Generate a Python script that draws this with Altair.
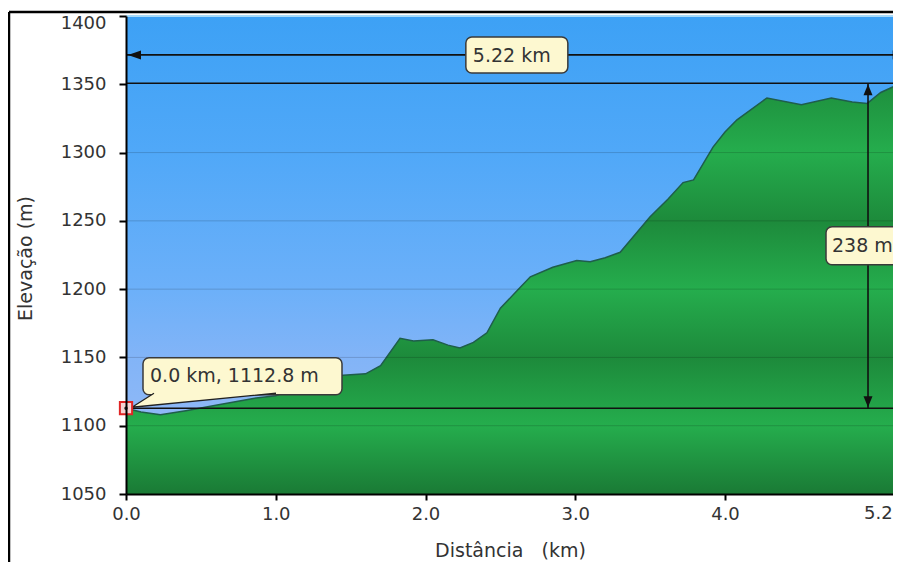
import altair as alt
import pandas as pd

# ---------------- data ----------------
km = [0.00, 0.10, 0.23, 0.40, 0.60, 0.85, 1.00, 1.15, 1.30, 1.45, 1.60, 1.70,
      1.83, 1.92, 2.05, 2.15, 2.23, 2.32, 2.41, 2.50, 2.63, 2.70, 2.85, 3.01,
      3.10, 3.20, 3.30, 3.40, 3.50, 3.62, 3.72, 3.79, 3.92, 4.00, 4.08, 4.28,
      4.51, 4.71, 4.85, 4.95, 5.04, 5.12, 5.18, 5.22]
elev = [1112.8, 1110, 1108, 1111, 1115, 1120, 1122, 1128, 1136, 1137, 1138, 1144,
        1164, 1162, 1163, 1159, 1157, 1161, 1168, 1186, 1201, 1209, 1216, 1221,
        1220, 1223, 1227, 1240, 1253, 1266, 1278, 1280, 1304, 1315, 1324, 1340,
        1335, 1340, 1337, 1336, 1344, 1348, 1350, 1350.8]

x_tick_values = [0, 1, 2, 3, 4]
y_tick_values = [1050, 1100, 1150, 1200, 1250, 1300, 1350, 1400]
grid_values = [1100, 1150, 1200, 1250, 1300]

start_km = 0.0
start_elev = 1112.8
total_km = 5.22
max_elev = 1350.8
climb_m = 238
span_arrow_elev = 1371.5
climb_arrow_km = 4.955

PLOT_W = 767
PX_PER_KM = 149.75
X_DOMAIN = [0, PLOT_W / PX_PER_KM]
Y_DOMAIN = [1050, 1400]
FONT = "DejaVu Sans"
INK = "#111111"
CREAM = "#FDF8D0"
TXT = "#333333"

xs = alt.Scale(domain=X_DOMAIN, nice=False, zero=False)
ys = alt.Scale(domain=Y_DOMAIN, nice=False, zero=False)


def xd(v):
    return alt.X(datum=v, type="quantitative", scale=xs)


def yd(v):
    return alt.Y(datum=v, type="quantitative", scale=ys)


one = pd.DataFrame({"k": [0]})
profile = pd.DataFrame({"km": km, "elev": elev})

# ---------------- gradients ----------------
blue_levels = [1400, 1300, 1200, 1150, 1100, 1050]
blue_colors = ["#3DA1F5", "#50A8F8", "#6CB0F9", "#82B4F7", "#90B9F7", "#98BEF8"]
blue_grad = alt.Gradient(
    gradient="linear", x1=0, x2=0, y1=0, y2=1,
    stops=[alt.GradientStop(offset=(Y_DOMAIN[1] - l) / (Y_DOMAIN[1] - Y_DOMAIN[0]), color=c)
           for l, c in zip(blue_levels, blue_colors)])

top_e = max(elev)
bot_e = Y_DOMAIN[0]
green_levels = [1350, 1300, 1250, 1200, 1150, 1100, 1050]
green_colors = ["#1E8E3D", "#25AD4D", "#1D8A3B", "#25AD4D", "#1D8A3B", "#25AD4D", "#1A7A35"]
green_grad = alt.Gradient(
    gradient="linear", x1=0, x2=0, y1=0, y2=1,
    stops=[alt.GradientStop(offset=max(0.0, min(1.0, (top_e - l) / (top_e - bot_e))), color=c)
           for l, c in zip(green_levels, green_colors)])

# ---------------- axes ----------------
xaxis = alt.Axis(values=x_tick_values, format=".1f", title="Distância\u00a0\u00a0 (km)",
                 labelFont=FONT, labelFontSize=18, labelColor=TXT, labelPadding=5,
                 labelFlush=False, tickSize=6, tickWidth=2, tickColor="#000",
                 domainColor="#000", domainWidth=2, grid=False,
                 titleFont=FONT, titleFontSize=19, titleFontWeight="normal", titleColor=TXT,
                 titleX=384, titleY=62, titleBaseline="alphabetic", titleAlign="center",
                 zindex=1)
yaxis = alt.Axis(values=y_tick_values, format="d", title="Elevação (m)",
                 labelFont=FONT, labelFontSize=18, labelColor=TXT, labelPadding=13,
                 labelFlush=False,
                 labelOffset={"condition": {"test": f"datum.value === {Y_DOMAIN[1]}", "value": 7},
                              "value": 0},
                 tickSize=7, tickWidth=2, tickColor="#000",
                 domainColor="#000", domainWidth=2, grid=False,
                 titleFont=FONT, titleFontSize=19, titleFontWeight="normal", titleColor=TXT,
                 titleX=-101, titleY=242, titleAngle=270, titleAlign="center",
                 titleBaseline="middle", zindex=1)

# ---------------- layers ----------------
bg = alt.Chart(one).mark_rect(fill=blue_grad).encode(
    x=alt.X(datum=0, type="quantitative", scale=xs, axis=xaxis),
    x2=alt.X2(datum=total_km),
    y=alt.Y(datum=Y_DOMAIN[1], type="quantitative", scale=ys, axis=yaxis),
    y2=alt.Y2(datum=Y_DOMAIN[0]))

top_light = alt.Chart(one).mark_rule(color="#A6DAFB", strokeWidth=2).encode(
    x=xd(0), x2=alt.X2(datum=total_km), y=yd(Y_DOMAIN[1]))

area = alt.Chart(profile).mark_area(color=green_grad).encode(
    x=alt.X("km:Q", scale=xs),
    y=alt.Y("elev:Q", scale=ys),
    y2=alt.Y2(datum=Y_DOMAIN[0]))

outline = alt.Chart(profile).mark_line(color="#1F5E4B", strokeWidth=1.5).encode(
    x=alt.X("km:Q", scale=xs), y=alt.Y("elev:Q", scale=ys))

grid = alt.Chart(pd.DataFrame({"g": grid_values})).mark_rule(
    color="#000", opacity=0.16, strokeWidth=1).encode(
    x=xd(0), x2=alt.X2(datum=total_km), y=alt.Y("g:Q", scale=ys))

hlines = alt.Chart(pd.DataFrame({"v": [max_elev, start_elev]})).mark_rule(
    color=INK, strokeWidth=1.6).encode(
    x=xd(0), x2=alt.X2(datum=total_km), y=alt.Y("v:Q", scale=ys))

span_arrow = alt.Chart(one).mark_rule(color=INK, strokeWidth=1.6).encode(
    x=xd(0), x2=alt.X2(datum=total_km), y=yd(span_arrow_elev))

climb_arrow = alt.Chart(one).mark_rule(color=INK, strokeWidth=1.6).encode(
    x=xd(climb_arrow_km), y=yd(start_elev), y2=alt.Y2(datum=max_elev))


def head(kmv, ev, path):
    return alt.Chart(one).mark_point(shape=path, size=4, filled=True, color=INK,
                                     opacity=1, strokeWidth=0).encode(x=xd(kmv), y=yd(ev))


heads = [
    head(start_km, span_arrow_elev, "M 2,0 L 15,-4.5 L 15,4.5 Z"),
    head(total_km, span_arrow_elev, "M -2,0 L -15,-4.5 L -15,4.5 Z"),
    head(climb_arrow_km, max_elev, "M 0,1 L -4.5,12 L 4.5,12 Z"),
    head(climb_arrow_km, start_elev, "M 0,-1 L -4.5,-12 L 4.5,-12 Z"),
]

box_style = dict(fill=CREAM, stroke="#3A3A3A", strokeWidth=1.5, cornerRadius=6)
txt_style = dict(font=FONT, fontSize=19, color=TXT, align="left", baseline="middle")

span_lbl = f"{total_km:.2f} km"
climb_lbl = f"{climb_m} m"
point_lbl = f"{start_km:.1f} km, {start_elev:.1f} m"

span_box = alt.Chart(one).mark_rect(width=102, height=36, **box_style).encode(
    x=xd(total_km / 2), y=yd(span_arrow_elev))
span_txt = alt.Chart(one).mark_text(dx=-44, dy=1, **txt_style).encode(
    x=xd(total_km / 2), y=yd(span_arrow_elev), text=alt.value(span_lbl))

climb_mid = (max_elev + start_elev) / 2
climb_box = alt.Chart(one).mark_rect(width=84, height=38, **box_style).encode(
    x=xd(climb_arrow_km), y=yd(climb_mid))
climb_txt = alt.Chart(one).mark_text(dx=-36, dy=0, **txt_style).encode(
    x=xd(climb_arrow_km), y=yd(climb_mid), text=alt.value(climb_lbl))

point_box = alt.Chart(one).mark_rect(width=199, height=37, xOffset=116.5, yOffset=-32,
                                     **box_style).encode(x=xd(start_km), y=yd(start_elev))
wedge = alt.Chart(one).mark_point(shape="M 28,-15 L 6,-1 L 150,-15", size=4, fill=CREAM,
                                  stroke="#222", strokeWidth=1.3, opacity=1).encode(
    x=xd(start_km), y=yd(start_elev))
point_txt = alt.Chart(one).mark_text(dx=24, dy=-32, **txt_style).encode(
    x=xd(start_km), y=yd(start_elev), text=alt.value(point_lbl))

marker = alt.Chart(one).mark_point(shape="square", size=150, fill="#F7D4D4", stroke="#E02525",
                                   strokeWidth=2, opacity=1).encode(
    x=xd(start_km), y=yd(start_elev))
marker_dot = alt.Chart(one).mark_point(shape="circle", size=12, filled=True, color="#222",
                                       opacity=1).encode(x=xd(start_km), y=yd(start_elev))

# last distance label (same one-decimal format as the other x ticks)
end_tick_lbl = alt.Chart(one).mark_text(font=FONT, fontSize=18, color=TXT, align="right",
                                        baseline="top", dx=-15, dy=11).encode(
    x=xd(total_km), y=yd(Y_DOMAIN[0]), text=alt.value(f"{total_km:.1f}"))

frame_left = alt.Chart(one).mark_rule(color="#000", strokeWidth=2.5).encode(
    x=alt.value(-117), y=alt.value(-4), y2=alt.value(600))
frame_top = alt.Chart(one).mark_rule(color="#000", strokeWidth=2.5).encode(
    x=alt.value(-117), x2=alt.value(900), y=alt.value(-4))

chart = alt.layer(
    bg, top_light, area, outline, grid, hlines, span_arrow, climb_arrow, *heads,
    span_box, span_txt, climb_box, climb_txt, point_box, wedge, point_txt,
    marker, marker_dot, end_tick_lbl, frame_left, frame_top
).properties(
    width=PLOT_W, height=478,
    padding={"left": 118, "top": 8, "right": 0, "bottom": 68},
    autosize=alt.AutoSizeParams(type="none"),
    background="white",
).configure_view(stroke="transparent")

chart.save("out.html", embed_options={"renderer": "svg", "actions": False})
